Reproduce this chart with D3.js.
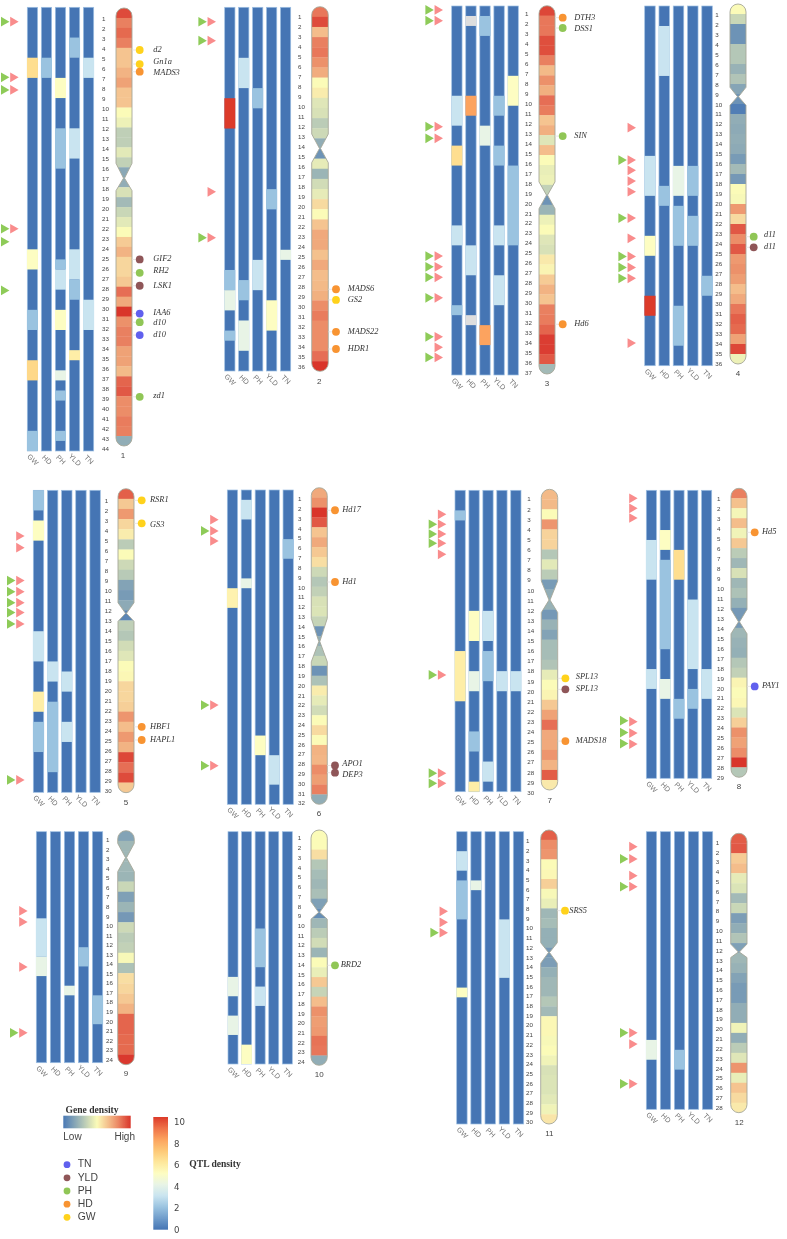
<!DOCTYPE html>
<html>
<head>
<meta charset="utf-8">
<script src="https://cdn.jsdelivr.net/npm/d3@7"></script>
<style>
html,body{margin:0;padding:0;background:#fff}
svg{display:block}
</style>
</head>
<body>
<div id="chart"></div>
<script>
// ---------- DATA ----------
const traits = ["GW","HD","PH","YLD","TN"];
const binCounts = [44,36,37,36,30,32,30,29,24,24,30,28];
const G = null; // grey = no reading in the source

// QTL density: per trait [firstBin, lastBin, value]; all other bins are 0
const qtl1 = [
 [[6,7,6.3],[25,26,5],[31,32,2],[36,37,6.5],[43,44,2]],
 [[6,7,2]],
 [[8,9,5],[13,16,2],[26,26,2],[27,28,3],[31,32,5],[37,37,4],[39,39,2],[43,43,2]],
 [[4,5,2],[13,15,3],[25,27,3],[28,29,2],[35,35,5.7]],
 [[6,7,3],[30,32,3]]];
const qtl2 = [
 [[10,12,10],[27,28,2],[29,30,4],[33,33,2]],
 [[6,8,3],[28,29,2],[32,34,4]],
 [[9,10,2],[26,28,3]],
 [[19,20,2],[30,32,5]],
 [[25,25,4]]];
const qtl3 = [
 [[10,12,3],[15,16,6.3],[23,24,3],[31,31,2]],
 [[2,2,G],[10,11,8],[25,27,3],[32,32,G]],
 [[2,3,2],[13,14,4],[33,34,8]],
 [[10,11,2],[15,16,2],[23,24,3],[28,30,3]],
 [[8,10,5],[17,24,2]]];
const qtl4 = [
 [[16,19,3],[24,25,5],[30,31,10]],
 [[3,7,3],[19,20,2]],
 [[17,19,4],[21,24,2],[31,34,2]],
 [[17,19,2],[22,24,2]],
 [[28,29,2]]];
const qtl5 = [
 [[1,2,2],[4,5,5],[15,17,3],[21,22,5.7],[24,26,2]],
 [[18,19,3],[22,28,2]],
 [[19,20,3],[24,25,3]],
 [],
 []];
const qtl6 = [
 [[11,12,5.5]],
 [[2,3,3],[10,10,4]],
 [[26,27,5]],
 [[28,30,3]],
 [[6,7,2]]];
const qtl7 = [
 [[3,3,2],[17,21,5.7]],
 [[13,15,5],[19,20,4],[25,26,2],[30,30,5.7]],
 [[13,15,3],[17,19,2],[28,29,3]],
 [[19,20,3]],
 [[19,20,3]]];
const qtl8 = [
 [[6,9,3],[19,20,3]],
 [[5,6,5],[8,16,2],[20,21,4]],
 [[7,9,6.3],[22,23,2]],
 [[12,18,3],[21,22,2]],
 [[19,21,3]]];
const qtl9 = [
 [[10,13,3],[14,15,4]],
 [],
 [[17,17,4]],
 [[13,14,2]],
 [[18,20,2]]];
const qtl10 = [
 [[16,17,4],[20,21,4]],
 [[23,24,5]],
 [[11,14,2],[17,18,3]],
 [],
 []];
const qtl11 = [
 [[3,4,3],[6,9,2],[17,17,5]],
 [[6,6,4]],
 [],
 [[10,15,3]],
 []];
const qtl12 = [
 [[22,23,4]],
 [],
 [[23,24,2]],
 [],
 []];

// Gene density, one value per band of the ideogram
const density1 = [9.5,8.3,8.8,8.3,6.5,6.5,7,7.5,6.5,6.5,5,4.6,3.3,3.3,4.3,3.4,1.8,2,4,2.5,3.6,4.3,5,6.3,7,6,6,6.4,8.7,7.3,10,7.9,8.3,8.3,7.5,7.5,6.8,8.9,9.2,8,8,8.4,8.3,2];
const density2 = [8.5,9.5,6.7,8.3,8.5,7.9,7.2,5,5.4,4.2,4,3.2,3.7,2,1,4.4,2.3,3.8,4.4,5.9,5,6.5,7.3,7.3,6.6,7.3,6.7,6.8,7.1,8,8.4,8,8,8,8.7,10];
const density3 = [9.6,8.5,8.5,9.4,9.4,8.3,6.8,7.9,7.1,8.7,8.4,6.5,7.1,4.2,6.7,5,4.5,4.6,3.4,1,2.3,4.6,5,4.2,4,5.5,5.2,6.3,7,6.5,8.3,8.4,8.9,9.8,9.8,9.2,2.5];
const density4 = [5,3.6,1,1,3,3,2.2,2.9,1.7,1,0.2,2,1.9,2,1.9,1.3,2.5,1.2,5,4.9,7.7,5.9,9.2,8,9.2,7.7,7.9,7.6,6.7,7.3,8.5,9,8.8,7.5,9.6,4.6];
const density5 = [9,6.4,7.7,6,5.4,3.2,5,3.7,3.1,1.6,1.3,1.9,0.5,3.3,3,3.8,4.2,5,5.1,6,6,6.2,7.8,6.7,7.7,7,9.6,8.7,9.5,6.4];
const density6 = [7.3,7.9,10,9.2,6.5,7.3,6.4,5.8,3.7,3,3.4,4,4.1,3.5,1,2,2.8,3.6,1,2.8,5.4,4.4,3.8,5,5.9,5,7,6.9,8,7.6,8.3,2];
const density7 = [6.8,6.8,5,7.8,6.1,6.1,3,4.3,3.2,1.3,2,2.2,1.2,2.2,1.6,2.6,2.6,2.9,4.4,5,5.2,6.4,7.5,8.7,7.3,7.3,7.8,7,9.1,5.5];
const density8 = [8.3,6.6,4.8,6.7,4.7,6.4,3.2,2.4,4,2.4,2.8,2.1,1.2,1.2,2.4,2.2,2.1,3,3.4,5.2,5,5.1,4.1,6.2,7.9,7.5,8,10,3];
const density9 = [1.6,2.4,2.4,2.4,2.3,3.6,1.5,2.3,1.2,3.7,3.2,3.4,4.9,2.8,5.8,6,6.4,7,8.9,8.9,8.8,8.8,9.9];
const density10 = [5,5,5.8,3,2.6,2.4,2.7,1.5,0.8,2.4,3.2,3.8,2.3,5,4.5,6.4,3.5,6.7,7.9,7.6,7.7,8.6,8.5,2];
const density11 = [9,8,7.8,5,5.1,6.2,4.9,4.5,2.4,2.6,2.1,2.1,1.2,1.4,2.1,2.4,2.4,3,2.5,5.1,5.1,4.9,5,4.7,4,4.1,4.1,4.3,4.7,5.6];
const density12 = [9.1,9.2,6.3,6.7,4.4,4.1,2.5,3.6,1.4,2,2.9,1.5,2.4,2.2,1.6,1.3,1.3,2,2,4.7,2,3.2,4.2,7.8,4.5,6.5,5.9,5.5];

// Centromere, in band units: [upper shoulder, waist, lower shoulder]
const centromeres = [[15.6,17.1,18.35],[12.57,14,15.4],[17.7,19.03,20.4],[8.33,9.27,10.13],[11.25,12.3,13.1],[13.2,15.55,17.6],[9.15,11.05,12.3],[12.15,13.4,14.6],[1.24,2.65,4.03],[7.3,8.4,9.1],[11.5,12.5,13.6],[11.1,11.9,12.45]];

// Known genes: [name, trait, band position, label position when it differs]
const genes1 = [["d2","GW",4.22],["Gn1a","GW",5.63,5.4],["MADS3","HD",6.4,6.56],["GIF2","YLD",25.26,25.2],["RH2","PH",26.6,26.45],["LSK1","YLD",27.9],["IAA6","TN",30.7,30.65],["d10","PH",31.56,31.65],["d10","TN",32.86],["zd1","PH",39.06,38.95]];
const genes2 = [["MADS6","HD",27.9],["GS2","GW",28.95],["MADS22","HD",32.1],["HDR1","HD",33.8]];
const genes3 = [["DTH3","HD",1.2],["DSS1","PH",2.24,2.36],["SIN","PH",13.1],["Hd6","HD",32]];
const genes4 = [["d11","PH",23.27,23.1],["d11","YLD",24.33]];
const genes5 = [["RSR1","GW",1.15],["GS3","GW",3.42,3.58],["HBF1","HD",23.5],["HAPL1","HD",24.8]];
const genes6 = [["Hd17","HD",2.28],["Hd1","HD",9.53],["APO1","YLD",28.08,27.95],["DEP3","YLD",28.8,29]];
const genes7 = [["SPL13","GW",18.86,18.7],["SPL13","YLD",19.96],["MADS18","HD",25.12]];
const genes8 = [["Hd5","HD",4.42],["PAY1","TN",19.88]];
const genes9 = [];
const genes10 = [["BRD2","PH",13.8]];
const genes11 = [["SRS5","GW",8.23]];
const genes12 = [];

// Arrow markers, in bin units along the QTL tracks
const pink1 = [1.43,6.94,8.2,21.96];
const green1 = [1.43,6.94,8.2,21.96,23.25,28.08];
const pink2 = [1.43,3.3,18.26,22.8];
const green2 = [1.43,3.3,22.8];
const pink3 = [0.4,1.47,12.1,13.27,25.08,26.15,27.2,29.26,33.17,34.23,35.24];
const green3 = [0.4,1.47,12.1,13.27,25.08,26.15,27.2,29.26,33.17,35.24];
const pink4 = [12.18,15.42,16.45,17.52,18.59,21.22,23.25,25.06,26.16,27.26,33.73];
const green4 = [15.42,21.22,25.06,26.16,27.26];
const pink5 = [4.54,5.7,8.97,10.07,11.16,12.15,13.28,28.77];
const green5 = [8.97,10.07,11.16,12.15,13.28,28.77];
const pink6 = [3.02,4.17,5.19,21.9,28.07];
const green6 = [4.17,21.9,28.07];
const pink7 = [2.39,3.38,4.35,5.27,6.37,18.38,28.16,29.16];
const green7 = [3.38,4.35,5.27,18.38,28.16,29.16];
const pink8 = [0.81,1.81,2.79,23.3,24.44,25.55];
const green8 = [23.2,24.4,25.5];
const pink9 = [8.23,9.38,14.05,20.9];
const green9 = [20.9];
const pink10 = [];
const green10 = [];
const pink11 = [8.17,9.3,10.37];
const green11 = [10.37];
const pink12 = [1.51,2.75,4.44,5.55,20.28,21.42,25.43];
const green12 = [2.75,5.55,20.28,25.43];

const qtlTicks = [0,2,4,6,8,10];
const geneTraitOrder = ["TN","YLD","PH","HD","GW"];

// ---------- LAYOUT & STYLE (kept apart from the data) ----------
const W = 787, H = 1239;
const panels = [
 {tl:27.3, tr:93.7, tt:7.3,  tb:451,   lx:102,   l0:18.3,  l1:449,   il:116,   ir:132,   it:8,    ib:446,   nx:123,   ny:456,   lab:153.3},
 {tl:224.7,tr:290.7,tt:7.3,  tb:371,   lx:298,   l0:17,    l1:366.3, il:311.7, ir:328.3, it:6.7,  ib:371.3, nx:319.3, ny:382,   lab:347.7},
 {tl:451.7,tr:518.3,tt:6,    tb:375,   lx:525,   l0:14,    l1:372.3, il:539,   ir:555,   it:5.7,  ib:374,   nx:547,   ny:384,   lab:574.3},
 {tl:644.7,tr:712.3,tt:6,    tb:365.7, lx:715.3, l0:14.3,  l1:363.3, il:730,   ir:746,   it:4,    ib:364,   nx:738,   ny:374,   lab:764},
 {tl:33.3, tr:100.3,tt:490.3,tb:792.3, lx:104.7, l0:500.3, l1:791,   il:118,   ir:134,   it:488.7,ib:792.7, nx:126,   ny:802.7, lab:150},
 {tl:227.3,tr:293.3,tt:490,  tb:804.3, lx:298,   l0:498.7, l1:803,   il:311.3, ir:327.3, it:487.7,ib:804.3, nx:319,   ny:814,   lab:342.3},
 {tl:455,  tr:521,  tt:490.3,tb:791.7, lx:527.3, l0:499,   l1:792.3, il:541.3, ir:557.7, it:489.3,ib:790,   nx:549.7, ny:800.7, lab:575.7},
 {tl:646.3,tr:711.7,tt:490.3,tb:778.3, lx:717,   l0:498.7, l1:777.7, il:731,   ir:747,   it:488.3,ib:777.3, nx:739,   ny:787,   lab:762},
 {tl:36.3, tr:102.7,tt:831.7,tb:1062.7,lx:106,   l0:839.7, l1:1059.3,il:117.7, ir:134.3, it:830.7,ib:1064.7,nx:126,   ny:1074,  lab:150},
 {tl:228,  tr:292.3,tt:831.7,tb:1064,  lx:297.7, l0:838,   l1:1061.7,il:311,   ir:327.3, it:830,  ib:1065.3,nx:319.3, ny:1074.7,lab:340.7},
 {tl:456.7,tr:523.7,tt:831.7,tb:1124,  lx:526,   l0:840.7, l1:1122,  il:540.7, ir:557.3, it:830,  ib:1124,  nx:549.3, ny:1133.7,lab:569.3},
 {tl:646.3,tr:712.7,tt:831.7,tb:1109.3,lx:715.7, l0:842.3, l1:1107.3,il:730.7, ir:747,   it:833.3,ib:1112.7,nx:739.3, ny:1122.7,lab:0}
];
const qtlAll = [qtl1,qtl2,qtl3,qtl4,qtl5,qtl6,qtl7,qtl8,qtl9,qtl10,qtl11,qtl12];
const densityAll = [density1,density2,density3,density4,density5,density6,density7,density8,density9,density10,density11,density12];
const genesAll = [genes1,genes2,genes3,genes4,genes5,genes6,genes7,genes8,genes9,genes10,genes11,genes12];
const pinkAll = [pink1,pink2,pink3,pink4,pink5,pink6,pink7,pink8,pink9,pink10,pink11,pink12];
const greenAll = [green1,green2,green3,green4,green5,green6,green7,green8,green9,green10,green11,green12];

const qtlColor = d3.scaleLinear()
  .domain([0,1,2,3,4,5,6,7,8,9,10])
  .range(["#4575b4","#6f9ccb","#9ac3e0","#c9e4f0","#e8f4e6","#fdfdc2","#fee79b","#fdc877","#fca35f","#ef7248","#dc3a2a"]);
const densityColor = d3.scaleLinear()
  .domain([0,5,6.5,7.5,8.5,10])
  .range(["#4a79b5","#fbfbb8","#f5c490","#efa276","#e8775a","#d9352a"]);
const traitColor = d3.scaleOrdinal()
  .domain(geneTraitOrder)
  .range(["#6160ee","#8f5659","#90c657","#f89433","#ffd21c"]);
const PINK = "#f98c8c", GREEN = "#8ecb59";
const sans = "'Liberation Sans',Arial,sans-serif", serif = "'Liberation Serif',serif";

const svg = d3.select("#chart").append("svg").attr("width",W).attr("height",H).attr("viewBox",[0,0,W,H]);
const defs = svg.append("defs");
defs.append("filter").attr("id","soft")
  .attr("filterUnits","userSpaceOnUse").attr("x",0).attr("y",0).attr("width",W).attr("height",H)
  .append("feGaussianBlur").attr("stdDeviation",0.4);
const root = svg.append("g").attr("filter","url(#soft)");
root.append("rect").attr("width",W).attr("height",H).attr("fill","#fff");

const triangle = d3.symbol().type(d3.symbolTriangle).size(41);

panels.forEach((p,i) => {
  const g = root.append("g").attr("class","chr chr"+(i+1));
  const n = binCounts[i];
  const x = d3.scaleBand().domain(traits).range([p.tl,p.tr]).paddingInner(0.264);
  const y = d3.scaleLinear().domain([0,n]).range([p.tt,p.tb]);

  // QTL tracks
  traits.forEach((t,ti) => {
    const tg = g.append("g");
    tg.append("rect").attr("x",x(t)).attr("y",y(0)).attr("width",x.bandwidth()).attr("height",y(n)-y(0))
      .attr("fill",qtlColor(0)).attr("stroke","#9dbfe2").attr("stroke-width",0.7);
    tg.selectAll("rect.seg").data(qtlAll[i][ti]).join("rect").attr("class","seg")
      .attr("x",x(t)-0.35).attr("width",x.bandwidth()+0.7)
      .attr("y",d=>y(d[0]-1)).attr("height",d=>y(d[1])-y(d[0]-1))
      .attr("fill",d=>d[2]===null?"#dedede":qtlColor(d[2]));
  });

  // trait axis
  const ax = g.append("g").attr("transform",`translate(0,${p.tb+3})`)
    .call(d3.axisBottom(x).tickSize(0).tickPadding(0));
  ax.select(".domain").remove();
  ax.selectAll("text").attr("font-family",sans).attr("font-size",7.2).attr("fill","#777")
    .attr("text-anchor","middle").attr("dy",null).attr("y",0)
    .attr("transform","translate(0,6) rotate(45)").attr("dominant-baseline","middle");

  // bin number axis
  const yb = d3.scalePoint().domain(d3.range(1,n+1)).range([p.l0,p.l1]);
  const ay = g.append("g").attr("transform",`translate(${p.lx},0)`)
    .call(d3.axisRight(yb).tickSize(0).tickPadding(0));
  ay.select(".domain").remove();
  ay.selectAll("text").attr("font-family",sans).attr("font-size",6.2).attr("fill","#444");

  // ideogram
  const dens = densityAll[i], cen = centromeres[i];
  const yi = d3.scaleLinear().domain([0,dens.length]).range([p.it,p.ib]);
  const r = (p.ir-p.il)/2, cx = (p.il+p.ir)/2;
  const shape = d3.path();
  shape.moveTo(p.il,p.it+r);
  shape.arc(cx,p.it+r,r,Math.PI,0);
  shape.lineTo(p.ir,yi(cen[0]));
  shape.lineTo(cx+0.5,yi(cen[1]));
  shape.lineTo(p.ir,yi(cen[2]));
  shape.lineTo(p.ir,p.ib-r);
  shape.arc(cx,p.ib-r,r,0,Math.PI);
  shape.lineTo(p.il,yi(cen[2]));
  shape.lineTo(cx-0.5,yi(cen[1]));
  shape.lineTo(p.il,yi(cen[0]));
  shape.closePath();
  const clipId = "ideo"+(i+1);
  defs.append("clipPath").attr("id",clipId).append("path").attr("d",shape.toString());
  g.append("g").attr("clip-path",`url(#${clipId})`)
    .selectAll("rect").data(dens).join("rect")
    .attr("x",p.il).attr("width",p.ir-p.il)
    .attr("y",(d,k)=>yi(k)).attr("height",(d,k)=>yi(k+1)-yi(k)+0.3)
    .attr("fill",d=>densityColor(d));
  g.append("path").attr("d",shape.toString()).attr("fill","none").attr("stroke","#a6a799").attr("stroke-width",0.9);

  // chromosome number
  g.append("text").attr("x",p.nx).attr("y",p.ny).attr("text-anchor","middle").attr("dominant-baseline","middle")
    .attr("font-family",sans).attr("font-size",8).attr("fill","#444").text(i+1);

  // genes
  const dotX = p.ir + 7.7;
  const gg = g.selectAll("g.gene").data(genesAll[i]).join("g").attr("class","gene");
  gg.append("line").attr("x1",p.ir).attr("x2",dotX).attr("y1",d=>yi(d[2])).attr("y2",d=>yi(d[2]))
    .attr("stroke","#e4dfdf").attr("stroke-width",0.8);
  gg.append("circle").attr("cx",dotX).attr("cy",d=>yi(d[2])).attr("r",3.9).attr("fill",d=>traitColor(d[1]));
  gg.append("text").attr("x",p.lab).attr("y",d=>yi(d[3]===undefined?d[2]:d[3]))
    .attr("dominant-baseline","middle").attr("font-family",serif).attr("font-style","italic")
    .attr("font-size",8.4).attr("fill","#333").text(d=>d[0]);

  // arrows
  const arrow = (vals,dx,col) => g.append("g").selectAll("path").data(vals).join("path")
    .attr("d",triangle).attr("fill",col)
    .attr("transform",d=>`translate(${p.tl+dx},${y(d)}) rotate(90)`);
  arrow(greenAll[i],-23.5,GREEN);
  arrow(pinkAll[i],-14.3,PINK);
});

// ---------- LEGENDS ----------
const leg = root.append("g");
const gradD = defs.append("linearGradient").attr("id","gradD");
d3.range(0,1.001,0.1).forEach(t => gradD.append("stop").attr("offset",t).attr("stop-color",densityColor(t*10)));
leg.append("text").attr("x",65.5).attr("y",1113).attr("font-family",serif).attr("font-weight","bold").attr("font-size",9.6).attr("fill","#333").text("Gene density");
leg.append("rect").attr("x",63.3).attr("y",1115.7).attr("width",67.4).attr("height",12.6).attr("fill","url(#gradD)");
leg.append("text").attr("x",63.3).attr("y",1139.5).attr("font-family",sans).attr("font-size",10).attr("fill","#444").text("Low");
leg.append("text").attr("x",135).attr("y",1139.5).attr("text-anchor","end").attr("font-family",sans).attr("font-size",10).attr("fill","#444").text("High");

const yT = d3.scalePoint().domain(geneTraitOrder).range([1164.7,1217.3]);
const lt = leg.append("g").selectAll("g").data(geneTraitOrder).join("g").attr("transform",d=>`translate(0,${yT(d)})`);
lt.append("circle").attr("cx",67).attr("r",3.4).attr("fill",d=>traitColor(d));
lt.append("text").attr("x",77.7).attr("dominant-baseline","middle").attr("font-family",sans).attr("font-size",10.4).attr("fill","#444").text(d=>d);

const gradQ = defs.append("linearGradient").attr("id","gradQ").attr("x1",0).attr("y1",1).attr("x2",0).attr("y2",0);
d3.range(0,1.001,0.1).forEach(t => gradQ.append("stop").attr("offset",t).attr("stop-color",qtlColor(t*10)));
leg.append("rect").attr("x",153.3).attr("y",1117).attr("width",14.7).attr("height",112.7).attr("fill","url(#gradQ)");
const yQ = d3.scaleLinear().domain([0,10]).range([1229.7,1121.7]);
const aq = leg.append("g").attr("transform","translate(174,0)")
  .call(d3.axisRight(yQ).tickValues(qtlTicks).tickSize(0).tickPadding(0));
aq.select(".domain").remove();
aq.selectAll("text").attr("font-family","'DejaVu Sans',sans-serif").attr("font-size",8.6).attr("fill","#444");
leg.append("text").attr("x",189.3).attr("y",1165).attr("dominant-baseline","middle").attr("font-family",serif).attr("font-weight","bold").attr("font-size",9.6).attr("fill","#333").text("QTL density");
</script>
</body>
</html>
